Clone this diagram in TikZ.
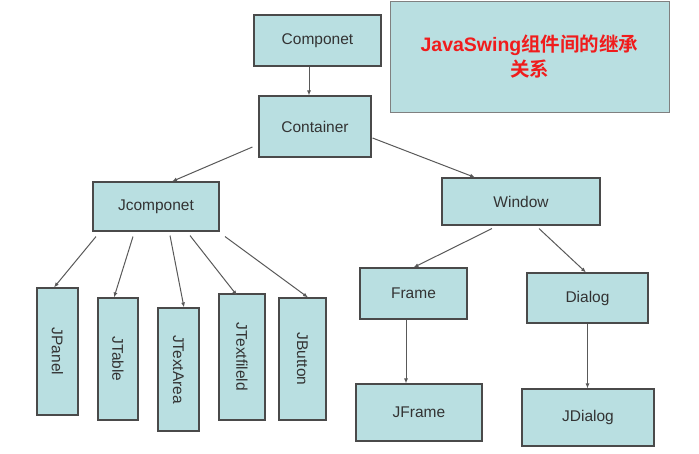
\documentclass[tikz,border=0pt]{standalone}
\usepackage{fontspec}
\setmainfont{Liberation Sans}
\newfontfamily\cjk{Noto Sans CJK SC}[BoldFont={Noto Sans CJK SC Bold}]
\usepackage{xcolor}
\usetikzlibrary{arrows.meta}

\definecolor{boxfill}{HTML}{B9DFE1}
\definecolor{boxline}{HTML}{4A4A4A}
\definecolor{titlered}{HTML}{F01C1C}

\begin{document}
\begin{tikzpicture}[
    x=1pt, y=-1pt,
    classbox/.style={
        draw=boxline,
        fill=boxfill,
        line width=1.1pt,
        inner sep=0pt,
        text=black!80,
        font=\fontsize{15.5}{18}\selectfont
    },
    arrow/.style={
        -{Latex[length=5pt,width=4pt]},
        line width=1pt,
        black!65
    }
]
\useasboundingbox (0,0) rectangle (699,453);

% Top of the hierarchy
\node[classbox, minimum width=127pt, minimum height=51pt] at (317.5,40.5) (comp) {Componet};
\node[classbox, minimum width=112pt, minimum height=61pt] at (315,126.5) (cont) {Container};

% Title box
\node[draw=black!50, fill=boxfill, line width=1pt, inner sep=0pt,
      minimum width=279pt, minimum height=111pt, align=center,
      text=titlered, font=\fontsize{19.5}{25}\selectfont\bfseries] at (529.5,56.5) (title) {
    JavaSwing{\cjk 组件间的继承}\\
    {\cjk 关系}
};

% Second level
\node[classbox, minimum width=126pt, minimum height=49pt] at (156,206.5) (jcomp) {Jcomponet};
\node[classbox, minimum width=158pt, minimum height=47pt] at (521,201.5) (win) {Window};

% Swing components (vertical boxes)
\node[classbox, minimum width=41pt, minimum height=127pt] at (57.5,351.5) (jpanel) {\rotatebox{-90}{JPanel}};
\node[classbox, minimum width=40pt, minimum height=122pt] at (118,359) (jtable) {\rotatebox{-90}{JTable}};
\node[classbox, minimum width=41pt, minimum height=123pt] at (178.5,369.5) (jtextarea) {\rotatebox{-90}{JTextArea}};
\node[classbox, minimum width=46pt, minimum height=126pt] at (242,357) (jtextfield) {\rotatebox{-90}{JTextfileld}};
\node[classbox, minimum width=47pt, minimum height=122pt] at (302.5,359) (jbutton) {\rotatebox{-90}{JButton}};

% Window branch
\node[classbox, minimum width=107pt, minimum height=51pt] at (413.5,293.5) (frame) {Frame};
\node[classbox, minimum width=121pt, minimum height=50pt] at (587.5,298) (dialog) {Dialog};
\node[classbox, minimum width=126pt, minimum height=57pt] at (419,412.5) (jframe) {JFrame};
\node[classbox, minimum width=132pt, minimum height=57pt] at (588,417.5) (jdialog) {JDialog};

% Inheritance arrows
\draw[arrow] ([xshift=-8.5pt]comp.south) -- ([xshift=-8.5pt]comp.south |- cont.north);
\draw[arrow] ([shift={(-6,20.5)}]cont.west) -- ([xshift=16pt]jcomp.north);
\draw[arrow] ([shift={(1,11.5)}]cont.east) -- ([xshift=-46pt]win.north);

\draw[arrow] ([shift={(-60,5)}]jcomp.south) -- ([xshift=-3.5pt]jpanel.north);
\draw[arrow] ([shift={(-23,5)}]jcomp.south) -- ([xshift=-4pt]jtable.north);
\draw[arrow] ([shift={(14,4)}]jcomp.south) -- ([xshift=5.5pt]jtextarea.north);
\draw[arrow] ([shift={(34,4)}]jcomp.south) -- ([shift={(-5,2)}]jtextfield.north);
\draw[arrow] ([shift={(69,5)}]jcomp.south) -- ([xshift=5.5pt]jbutton.north);

\draw[arrow] ([shift={(-29,3)}]win.south) -- (frame.north);
\draw[arrow] ([shift={(18,3)}]win.south) -- ([xshift=-1.5pt]dialog.north);

\draw[arrow] ([xshift=-7.5pt]frame.south) -- ([xshift=-7.5pt]frame.south |- jframe.north);
\draw[arrow] (dialog.south) -- (dialog.south |- jdialog.north);
\end{tikzpicture}
\end{document}
